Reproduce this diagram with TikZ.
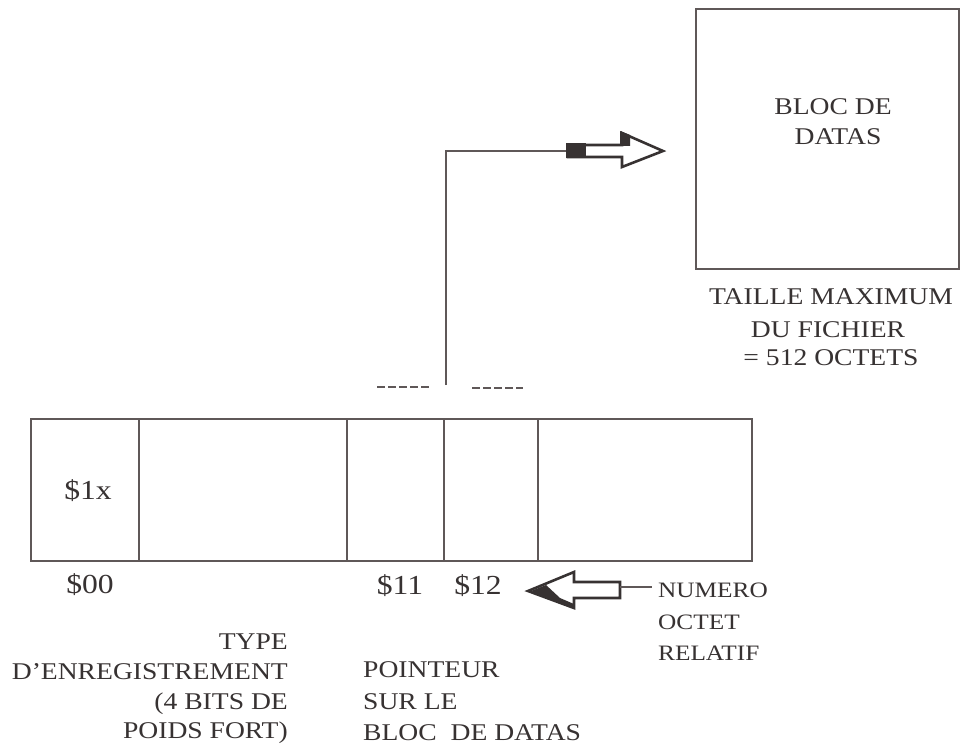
\documentclass[tikz,border=0pt]{standalone}
\usepackage{fontspec}
\setmainfont[FakeStretch=1.15]{Liberation Serif}
\definecolor{ink}{RGB}{55,50,50}
\definecolor{linec}{RGB}{95,88,88}
\begin{document}
\begin{tikzpicture}[x=1pt,y=-1pt,
  txt/.style={inner sep=0pt,text height=15pt,text depth=0pt,text=ink,font=\fontsize{24}{26}\selectfont},
  sml/.style={txt,font=\fontsize{22}{24}\selectfont},
  big/.style={inner sep=0pt,text height=19pt,text depth=0pt,text=ink,font=\fontsize{27.5}{30}\selectfont},
  ln/.style={draw=linec,line width=1.6pt},
  dsh/.style={draw=linec,line width=2.8pt,dash pattern=on 8pt off 3pt}]
\useasboundingbox (0,0) rectangle (961,746);

% big data block
\draw[ln] (696,9) rectangle (959,269);
\node[txt] (b1) at (833,107) {BLOC DE};
\node[txt] (b2) at (838,137) {DATAS};
\node[txt] (t1) at (831,297) {TAILLE MAXIMUM};
\node[txt] (t2) at (828,330) {DU FICHIER};
\node[txt] (t3) at (831,358) {= 512 OCTETS};

% record box
\draw[ln] (31,419) rectangle (752,561);
\foreach \x in {139,347,444,538} \draw[ln] (\x,419) -- (\x,561);
\node[big] (r1x) at (88,490) {\$1x};
\node[big] (r00) at (90,584) {\$00};
\node[big] (r11) at (400,585) {\$11};
\node[big] (r12) at (478,585) {\$12};

% dashes
\draw[dsh] (377,387) -- (430,387);
\draw[dsh] (472,388) -- (523,388);

% pointer connector
\coordinate (pstart) at (446,385);
\coordinate (ptail) at (568,151);
\draw[ln] (pstart) |- (ptail);
% right block arrow
\draw[draw=ink,line width=2.6pt,fill=white,line join=miter]
  (568,145) -- (622,145) -- (622,133) -- (663,151) -- (622,167) -- (622,157) -- (568,157) -- cycle;
\fill[ink] (566,143.5) rectangle (586,158.5);
\fill[ink] (620,131) -- (630,135) -- (630,146) -- (620,146) -- cycle;

% left block arrow
\coordinate (ltail) at (652,587);
\coordinate (lbody) at (620,587);
\draw[draw=ink,line width=2.6pt,fill=white,line join=miter]
  (620,582) -- (574,582) -- (574,572) -- (528,591) -- (574,608) -- (574,598) -- (620,598) -- cycle;
\fill[ink] (531,591) -- (546,585) -- (560,598) -- (574,604) -- (574,609) -- cycle;
\draw[ln] (lbody) -- (ltail);

% labels
\node[sml,anchor=west] (n1) at (658,590) {NUMERO};
\node[sml,anchor=west] (n2) at (658,622) {OCTET};
\node[sml,anchor=west] (n3) at (658,653) {RELATIF};

\node[txt,anchor=east] (ty1) at (288,642) {TYPE};
\node[txt,anchor=east] (ty2) at (288,672) {D’ENREGISTREMENT};
\node[txt,anchor=east] (ty3) at (288,702) {(4 BITS DE};
\node[txt,anchor=east] (ty4) at (288,731) {POIDS FORT)};

\node[txt,anchor=west] (p1) at (363,670) {POINTEUR};
\node[txt,anchor=west] (p2) at (363,702) {SUR LE};
\node[txt,anchor=west] (p3) at (363,733) {BLOC\ \ DE DATAS};
\end{tikzpicture}
\end{document}
